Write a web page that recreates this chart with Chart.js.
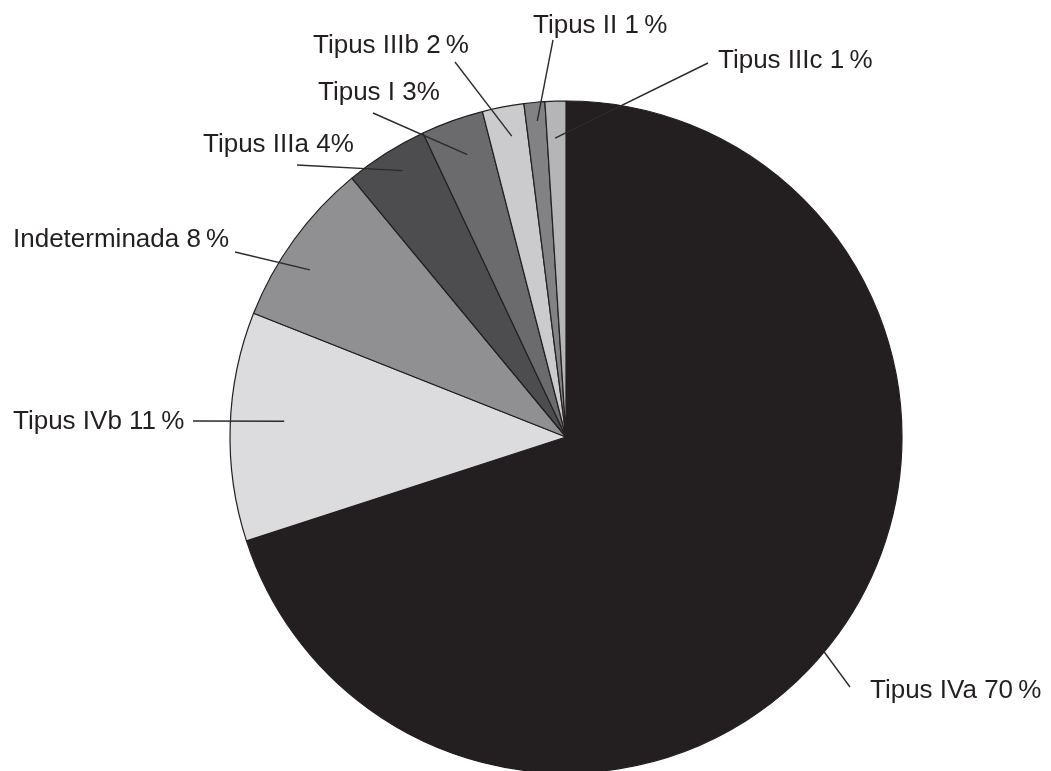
<!DOCTYPE html>
<html>
<head>
<meta charset="utf-8">
<title>Tipus</title>
<script src="https://cdn.jsdelivr.net/npm/chart.js@4.4.1/dist/chart.umd.min.js"></script>
<style>
  html, body {
    margin: 0;
    padding: 0;
    background: #ffffff;
  }
  #chart {
    display: block;
  }
</style>
</head>
<body>
<canvas id="chart" width="1051" height="771"></canvas>
<script>
// categories and shares (%), clockwise from the top
const categories = [
  "Tipus IVa",
  "Tipus IVb",
  "Indeterminada",
  "Tipus IIIa",
  "Tipus I",
  "Tipus IIIb",
  "Tipus II",
  "Tipus IIIc",
];
const shares = [70, 11, 8, 4, 3, 2, 1, 1];
const sliceColors = [
  "#231f20",
  "#dcdcde",
  "#909092",
  "#4d4d4f",
  "#6b6b6d",
  "#cbcbcd",
  "#828284",
  "#b5b5b7",
];

// label placement: text anchor, end of the leader line outside the pie,
// and where the leader points inside the slice (t along the slice, r as part of radius)
const labelLayout = [
  { x: 870, y: 698, lx: 850, ly: 687, t: 0.515, r: 1.0, gap: true },
  { x: 13, y: 429, lx: 193, ly: 421, t: 0.535, r: 0.84, gap: true },
  { x: 13, y: 247, lx: 235, ly: 252, t: 0.4, r: 0.91, gap: true },
  { x: 203, y: 152, lx: 297, ly: 165, t: 0.56, r: 0.93, gap: false },
  { x: 318, y: 100, lx: 373, ly: 113, t: 0.55, r: 0.89, gap: false },
  { x: 313, y: 53, lx: 455, ly: 62, t: 0.58, r: 0.91, gap: true },
  { x: 533, y: 33, lx: 553, ly: 40, t: 0.56, r: 0.945, gap: true },
  { x: 718, y: 68, lx: 708, ly: 63, t: 0.42, r: 0.89, gap: true },
];

const labelPlugin = {
  id: "leaderLabels",
  afterDatasetsDraw(chart) {
    let ctx = chart.ctx;
    let arcs = chart.getDatasetMeta(0).data;
    ctx.save();
    ctx.strokeStyle = "#2b2b2b";
    ctx.lineWidth = 1.4;
    for (let i = 0; i < arcs.length; i++) {
      let a = arcs[i];
      let lay = labelLayout[i];
      let ang = a.startAngle + (a.endAngle - a.startAngle) * lay.t;
      let ix = a.x + Math.cos(ang) * a.outerRadius * lay.r;
      let iy = a.y + Math.sin(ang) * a.outerRadius * lay.r;
      ctx.beginPath();
      ctx.moveTo(lay.lx, lay.ly);
      ctx.lineTo(ix, iy);
      ctx.stroke();
    }
    ctx.fillStyle = "#231f20";
    ctx.font = '26px "Liberation Sans", Arial, sans-serif';
    ctx.textAlign = "left";
    ctx.textBaseline = "alphabetic";
    for (let i = 0; i < categories.length; i++) {
      let lay = labelLayout[i];
      let txt = categories[i] + " " + shares[i] + (lay.gap ? "\u2009" : "") + "%";
      ctx.fillText(txt, lay.x, lay.y);
    }
    ctx.restore();
  },
};

let chart = new Chart(document.getElementById("chart"), {
  type: "pie",
  data: {
    labels: categories,
    datasets: [
      {
        data: shares,
        backgroundColor: sliceColors,
        borderColor: "#231f20",
        borderWidth: 1.2,
        radius: 336,
        clip: false,
      },
    ],
  },
  options: {
    responsive: false,
    devicePixelRatio: 1,
    animation: false,
    layout: {
      padding: { left: 233, right: 152, top: 103, bottom: 0 },
    },
    plugins: {
      legend: { display: false },
      tooltip: { enabled: false },
    },
  },
  plugins: [labelPlugin],
});
</script>
</body>
</html>
